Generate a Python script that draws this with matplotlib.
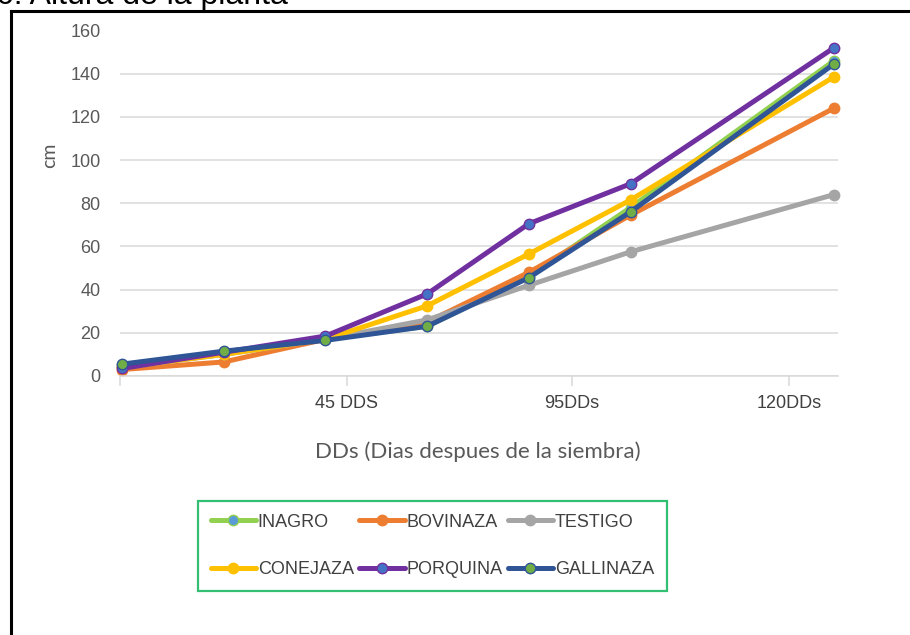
import matplotlib
matplotlib.use('Agg')
from matplotlib import pyplot as plt

# sampling positions (index 6 has no measurement)
x_pos = [0, 1, 2, 3, 4, 5, 7]

inagro = [5, 11, 17, 23, 46, 78, 146]
bovinaza = [3, 6.5, 17, 25, 48, 74.5, 124]
testigo = [4, 10, 17, 26, 42, 57.5, 84]
conejaza = [4, 10, 17, 32.5, 56.5, 81.5, 138.5]
porquina = [3.5, 11, 18.5, 38, 70.5, 89, 152]
gallinaza = [5.5, 11.5, 16.5, 23, 45.5, 76, 144.5]

tick_pos = [-0.02, 2.21, 4.42, 6.56]
tick_labels = ['', '45 DDS', '95DDs', '120DDs']

series = [
    ('INAGRO', inagro, '#92d050', '#5b9bd5'),
    ('BOVINAZA', bovinaza, '#ed7d31', '#ed7d31'),
    ('TESTIGO', testigo, '#a5a5a5', '#a5a5a5'),
    ('CONEJAZA', conejaza, '#ffc000', '#ffc000'),
    ('PORQUINA', porquina, '#7030a0', '#4472c4'),
    ('GALLINAZA', gallinaza, '#2f5597', '#70ad47'),
]

arial = ['Liberation Sans', 'DejaVu Sans']

fig = plt.figure(figsize=(9.1, 6.35), dpi=100)

# page border (left and top only are visible)
fig.add_artist(plt.Line2D([10.5 / 910, 10.5 / 910], [0, 1 - 11 / 635], color='black', lw=2.2,
                          transform=fig.transFigure))
fig.add_artist(plt.Line2D([10.5 / 910, 1], [1 - 11 / 635, 1 - 11 / 635], color='black', lw=2.2,
                          transform=fig.transFigure))

# cut-off heading at the very top
fig.text(-4 / 910, 1 - 4 / 635, '6. Altura de la planta', fontsize=23, family=arial,
         va='baseline', ha='left', color='black')

ax = fig.add_axes([120 / 910, 1 - 376 / 635, 718 / 910, (376 - 30.5) / 635])

handles = {}
for name, vals, c, mc in series:
    h, = ax.plot(x_pos, vals, color=c, lw=3.6, marker='o', markersize=7.5,
                 markerfacecolor=mc, markeredgecolor=c, markeredgewidth=1,
                 solid_capstyle='round', clip_on=False, label=name)
    handles[name] = h

ax.set_xlim(-0.02, 7.04)
ax.set_ylim(0, 160)
ax.set_yticks(range(0, 161, 20))
ax.set_xticks(tick_pos)
ax.set_xticklabels(tick_labels)

ax.grid(axis='y', color='#d9d9d9', lw=1.1)
ax.set_axisbelow(True)
for s in ['top', 'right', 'left']:
    ax.spines[s].set_visible(False)
ax.spines['bottom'].set_color('#d9d9d9')
ax.spines['bottom'].set_linewidth(1.1)

ax.tick_params(axis='y', length=0, pad=14, labelsize=13, labelcolor='#595959')
ax.tick_params(axis='x', length=7, width=1.1, color='#d9d9d9', pad=7, labelsize=13, labelcolor='#404040')
for lab in ax.get_xticklabels() + ax.get_yticklabels():
    lab.set_family(arial)

fig.text(50 / 910, 1 - 155 / 635, 'cm', rotation=90, ha='center', va='center',
         fontsize=14, color='#595959', family=['Lato', 'DejaVu Sans'])
fig.text(478 / 910, 1 - 452 / 635, 'DDs (Dias despues de la siembra)', ha='center', va='center',
         fontsize=16, color='#595959', family=['Lato', 'DejaVu Sans'])

order = ['INAGRO', 'CONEJAZA', 'BOVINAZA', 'PORQUINA', 'TESTIGO', 'GALLINAZA']
leg = fig.legend([handles[n] for n in order], order, loc='center',
                 bbox_to_anchor=(432.5 / 910, 1 - 546 / 635), ncol=3,
                 prop={'family': arial, 'size': 13}, fancybox=False, frameon=True,
                 handlelength=2.5, handletextpad=0.1, columnspacing=0.3,
                 labelspacing=1.7, borderpad=0.7, borderaxespad=0)
leg.get_frame().set_edgecolor('#00b050')
leg.get_frame().set_linewidth(1.6)
for t in leg.get_texts():
    t.set_color('#404040')

fig.savefig('out.png', dpi=100)
